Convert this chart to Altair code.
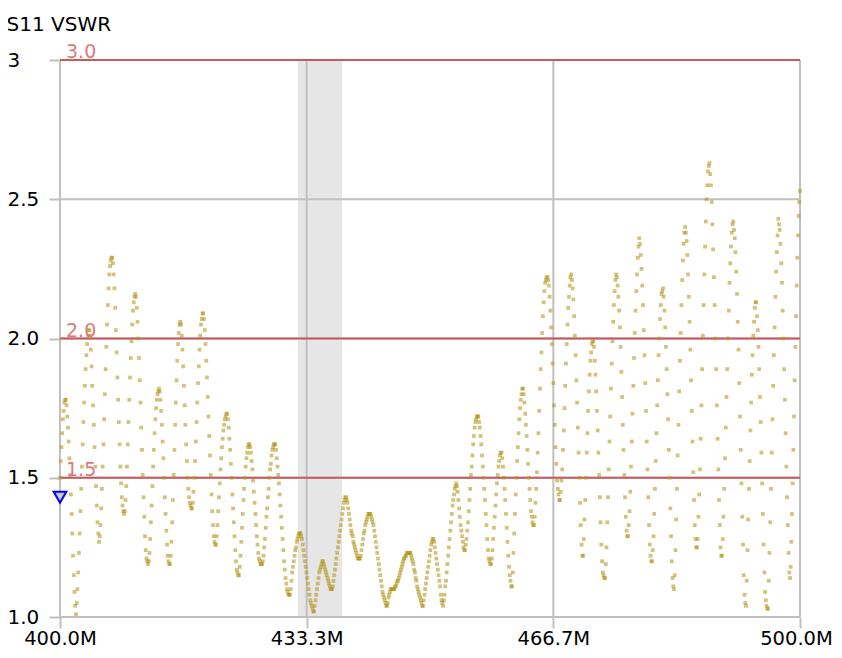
import altair as alt
import pandas as pd
import numpy as np

# Sweep segment start frequencies (MHz), one per oscillation trough
seg_start_mhz = [400.00, 402.16, 405.27, 408.65, 411.89, 414.86, 417.84, 421.08,
                 424.19, 427.30, 431.08, 434.32, 436.76, 440.54, 444.19, 449.05,
                 451.76, 454.73, 458.24, 461.08, 464.05, 467.57, 470.68, 473.65,
                 476.76, 480.00, 482.97, 486.08, 489.46, 492.70, 495.68, 498.65]
sweep_end_mhz = 500.0

# S11 VSWR samples, segment by segment
seg_vswr = [
    [1.50,1.56,1.61,1.66,1.71,1.74,1.77,1.78,1.78,1.76,1.72,1.68,1.63,1.57,1.51,1.44,1.37,1.30,1.22,1.15,1.09,1.04],
    [1.01,1.05,1.10,1.16,1.23,1.30,1.38,1.46,1.54,1.62,1.70,1.77,1.83,1.89,1.94,1.98,2.01,2.03,2.03,
     2.01,1.96,1.90,1.83,1.76,1.69,1.61,1.54,1.47,1.40,1.34,1.30],
    [1.27,1.29,1.33,1.39,1.46,1.54,1.62,1.71,1.80,1.89,1.97,2.05,2.12,2.18,2.23,2.26,2.28,2.29,
     2.29,2.27,2.23,2.18,2.11,2.03,1.95,1.86,1.78,1.70,1.62,1.54,1.48,1.43,1.40,1.38],
    [1.37,1.38,1.42,1.47,1.54,1.62,1.70,1.78,1.86,1.93,1.99,2.05,2.10,2.13,2.15,2.16,
     2.15,2.11,2.06,2.00,1.93,1.85,1.77,1.68,1.60,1.51,1.43,1.36,1.29,1.24,1.21,1.20],
    [1.19,1.20,1.23,1.28,1.34,1.40,1.47,1.54,1.60,1.66,1.71,1.75,1.78,1.80,1.81,1.82,
     1.81,1.78,1.74,1.69,1.63,1.57,1.50,1.43,1.37,1.31,1.26,1.22,1.20,1.19],
    [1.19,1.22,1.27,1.34,1.42,1.51,1.60,1.69,1.77,1.85,1.92,1.98,2.02,2.05,2.06,
     2.05,2.01,1.96,1.90,1.83,1.76,1.69,1.62,1.56,1.50,1.46,1.43,1.41,1.40,1.39],
    [1.39,1.41,1.45,1.50,1.56,1.63,1.70,1.77,1.84,1.90,1.96,2.01,2.05,2.07,2.09,2.09,
     2.07,2.03,1.98,1.92,1.86,1.79,1.72,1.65,1.58,1.51,1.44,1.38,1.33,1.29,1.27,1.26],
    [1.26,1.29,1.33,1.38,1.43,1.48,1.53,1.57,1.61,1.64,1.67,1.69,1.71,1.72,1.73,1.73,
     1.71,1.68,1.64,1.60,1.55,1.50,1.44,1.39,1.34,1.29,1.24,1.20,1.17,1.16,1.15],
    [1.15,1.18,1.22,1.27,1.32,1.37,1.42,1.46,1.50,1.54,1.57,1.59,1.61,1.62,1.62,
     1.61,1.59,1.56,1.53,1.49,1.45,1.41,1.37,1.33,1.29,1.26,1.23,1.21,1.20,1.19,1.19],
    [1.19,1.20,1.22,1.25,1.28,1.32,1.36,1.39,1.43,1.46,1.50,1.53,1.55,1.58,1.60,1.61,1.62,1.62,1.62,
     1.60,1.57,1.54,1.51,1.48,1.44,1.40,1.36,1.32,1.28,1.24,1.20,1.17,1.14,1.12,1.10,1.09,1.08,1.08],
    [1.08,1.10,1.13,1.16,1.18,1.20,1.22,1.24,1.25,1.27,1.28,1.29,1.30,1.30,1.30,1.29,
     1.28,1.26,1.24,1.22,1.20,1.18,1.16,1.14,1.12,1.10,1.08,1.06,1.05,1.04,1.03,1.02],
    [1.02,1.04,1.06,1.08,1.10,1.12,1.14,1.16,1.17,1.18,1.19,1.20,1.20,
     1.19,1.18,1.17,1.16,1.15,1.14,1.13,1.12,1.11,1.10,1.10],
    [1.10,1.11,1.13,1.15,1.17,1.19,1.21,1.23,1.25,1.27,1.29,1.31,1.33,1.35,1.37,1.39,1.41,1.42,1.43,1.43,
     1.42,1.41,1.39,1.37,1.35,1.33,1.31,1.30,1.29,1.27,1.26,1.25,1.24,1.23,1.22,1.21,1.21,1.21],
    [1.21,1.22,1.24,1.26,1.28,1.30,1.31,1.33,1.34,1.35,1.36,1.37,1.37,1.37,1.37,
     1.36,1.35,1.34,1.33,1.31,1.29,1.27,1.25,1.23,1.21,1.19,1.17,1.15,1.13,1.11,1.09,1.08,1.07,1.06,1.05,1.04],
    [1.04,1.05,1.07,1.08,1.09,1.10,1.10,1.10,1.10,1.10,1.10,1.11,1.11,1.12,1.13,1.13,1.14,1.15,1.16,1.17,
     1.18,1.19,1.20,1.21,1.21,1.22,1.22,1.23,1.23,1.23,1.23,1.23,1.23,
     1.22,1.21,1.20,1.19,1.17,1.16,1.14,1.13,1.11,1.10,1.09,1.08,1.07,1.06,1.05,1.04],
    [1.04,1.06,1.08,1.10,1.12,1.14,1.16,1.18,1.20,1.22,1.24,1.26,1.27,1.28,
     1.28,1.27,1.25,1.23,1.21,1.19,1.17,1.15,1.13,1.11,1.08,1.06,1.05],
    [1.04,1.06,1.08,1.11,1.13,1.16,1.19,1.22,1.25,1.28,1.31,1.34,1.37,1.40,1.42,1.44,1.46,1.47,1.48,
     1.47,1.45,1.42,1.39,1.36,1.33,1.31,1.29,1.27,1.25,1.24],
    [1.24,1.26,1.28,1.31,1.34,1.38,1.42,1.46,1.51,1.54,1.58,1.62,1.65,1.68,1.70,1.71,1.72,1.72,1.72,
     1.70,1.68,1.65,1.62,1.58,1.54,1.50,1.46,1.42,1.37,1.33,1.28,1.24,1.21,1.20,1.19],
    [1.19,1.21,1.24,1.28,1.32,1.36,1.40,1.44,1.48,1.51,1.54,1.56,1.58,1.59,1.59,
     1.57,1.54,1.50,1.46,1.42,1.37,1.32,1.27,1.22,1.18,1.15,1.13,1.11],
    [1.11,1.16,1.23,1.30,1.37,1.44,1.50,1.56,1.61,1.66,1.71,1.75,1.78,1.80,1.82,1.82,
     1.80,1.77,1.73,1.69,1.65,1.60,1.55,1.50,1.46,1.42,1.38,1.36,1.34,1.33],
    [1.33,1.36,1.41,1.46,1.52,1.59,1.66,1.74,1.82,1.89,1.95,2.02,2.08,2.13,2.17,2.20,2.21,2.22,2.22,
     2.21,2.19,2.15,2.10,2.04,1.98,1.91,1.84,1.76,1.69,1.61,1.55,1.49,1.46,1.44,1.42],
    [1.42,1.45,1.49,1.53,1.60,1.67,1.75,1.83,1.91,1.98,2.05,2.11,2.15,2.19,2.22,2.23,
     2.21,2.18,2.14,2.08,2.01,1.94,1.85,1.77,1.68,1.59,1.50,1.41,1.33,1.26,1.22],
    [1.22,1.28,1.35,1.42,1.50,1.59,1.66,1.74,1.81,1.87,1.92,1.95,1.98,1.99,1.99,
     1.97,1.92,1.87,1.81,1.74,1.67,1.59,1.51,1.43,1.34,1.26,1.20,1.16,1.15,1.14],
    [1.14,1.19,1.25,1.34,1.43,1.53,1.63,1.72,1.82,1.91,1.99,2.06,2.12,2.17,2.21,2.23,
     2.22,2.19,2.15,2.10,2.04,1.97,1.88,1.79,1.69,1.60,1.51,1.43,1.36,1.31,1.29],
    [1.29,1.33,1.38,1.45,1.54,1.63,1.73,1.83,1.93,2.02,2.10,2.17,2.23,2.29,2.33,2.36,
     2.34,2.30,2.25,2.19,2.12,2.03,1.94,1.84,1.74,1.63,1.53,1.43,1.33,1.26,1.22,1.20],
    [1.20,1.24,1.29,1.37,1.46,1.56,1.66,1.76,1.85,1.94,2.00,2.07,2.12,2.16,2.17,2.18,
     2.15,2.10,2.04,1.97,1.89,1.80,1.71,1.60,1.50,1.39,1.29,1.20,1.14,1.11],
    [1.10,1.15,1.24,1.35,1.46,1.58,1.69,1.81,1.92,2.02,2.12,2.21,2.28,2.34,2.38,2.40,
     2.38,2.35,2.30,2.23,2.15,2.06,1.96,1.85,1.74,1.63,1.52,1.42,1.33,1.28,1.25],
    [1.25,1.28,1.36,1.44,1.53,1.64,1.76,1.89,2.01,2.12,2.23,2.33,2.42,2.50,2.55,2.60,2.62,2.63,
     2.59,2.55,2.49,2.41,2.32,2.22,2.12,2.00,1.89,1.76,1.64,1.53,1.42,1.33,1.25,1.22],
    [1.22,1.28,1.36,1.46,1.57,1.68,1.79,1.89,2.00,2.10,2.20,2.27,2.33,2.38,2.41,2.42,
     2.39,2.36,2.31,2.24,2.16,2.06,1.96,1.84,1.72,1.60,1.48,1.36,1.26,1.15,1.08,1.05],
    [1.04,1.13,1.24,1.35,1.46,1.56,1.67,1.77,1.87,1.94,2.01,2.06,2.11,2.13,2.13,
     2.08,2.03,1.97,1.89,1.79,1.70,1.59,1.48,1.37,1.26,1.16,1.09,1.06,1.04,1.03],
    [1.03,1.13,1.23,1.34,1.46,1.59,1.71,1.83,1.94,2.04,2.15,2.24,2.31,2.37,2.43,
     2.41,2.39,2.34,2.27,2.20,2.10,2.00,1.89,1.78,1.66,1.54,1.43,1.33,1.23,1.16],
    [1.14,1.18,1.27,1.37,1.48,1.60,1.72,1.85,1.97,2.08,2.19,2.29,2.37,2.44,2.49,2.53],
]

x_ticks = [400.0, 433.333, 466.667, 500.0]
y_ticks = [1.0, 1.5, 2.0, 2.5, 3.0]
limit_levels = [1.5, 2.0, 3.0]
limit_labels = ["1.5", "2.0", "3.0"]
band_start, band_end = 432.16, 438.11
marker_mhz, marker_vswr = 400.0, 1.43

# build sweep table
freqs, vals = [], []
n_seg = len(seg_vswr)
for i, seg in enumerate(seg_vswr):
    start = seg_start_mhz[i]
    stop = seg_start_mhz[i + 1] if i + 1 < n_seg else sweep_end_mhz
    last = i == n_seg - 1
    freqs.extend(np.linspace(start, stop, len(seg), endpoint=last).tolist())
    vals.extend(seg)
trace = pd.DataFrame({"f": freqs, "v": vals})

FONT = "DejaVu Sans"
GRID = "#c0c0c0"

xs = alt.Scale(domain=[400, 500], nice=False, zero=False)
ys = alt.Scale(domain=[1, 3], nice=False, zero=False)

band = alt.Chart(pd.DataFrame({"a": [band_start], "b": [band_end]})).mark_rect(
    color="#e6e6e6"
).encode(
    x=alt.X("a:Q", scale=xs), x2="b:Q",
    y=alt.value(0), y2=alt.value(557),
)

vgrid = alt.Chart(pd.DataFrame({"t": x_ticks})).mark_rule(
    color=GRID, strokeWidth=2
).encode(x=alt.X("t:Q", scale=xs))

hgrid = alt.Chart(pd.DataFrame({"t": y_ticks})).mark_rule(
    color=GRID, strokeWidth=2
).encode(y=alt.Y("t:Q", scale=ys))

lim_df = pd.DataFrame({"lv": limit_levels, "lab": limit_labels, "x0": [400.0] * 3})
limits = alt.Chart(lim_df).mark_rule(color="#c85a5a", strokeWidth=2).encode(
    y=alt.Y("lv:Q", scale=ys)
)
limit_text = alt.Chart(lim_df).mark_text(
    align="left", baseline="alphabetic", dx=6, dy=-2,
    font=FONT, fontSize=19, color="#e07a7a"
).encode(
    x=alt.X("x0:Q", scale=xs), y=alt.Y("lv:Q", scale=ys), text="lab:N"
)

dots = alt.Chart(trace).mark_square(
    size=14, color="#b4961e", opacity=0.58
).encode(
    x=alt.X("f:Q", scale=xs,
            axis=alt.Axis(values=x_ticks, title=None, grid=False, domain=False,
                          ticks=True, tickSize=11, tickWidth=2, tickColor=GRID,
                          labelExpr="format(datum.value, '.1f') + 'M'",
                          labelFont=FONT, labelFontSize=19.5, labelColor="#000000",
                          labelBaseline="alphabetic", labelPadding=16,
                          labelOffset={"condition": {"test": "datum.value >= 499", "value": -4},
                                       "value": 0},
                          labelFlush=False, labelOverlap=False)),
    y=alt.Y("v:Q", scale=ys,
            axis=alt.Axis(values=y_ticks, grid=False, domain=False,
                          ticks=True, tickSize=11, tickWidth=2, tickColor=GRID,
                          labelExpr="datum.value >= 3 ? '3' : format(datum.value, '.1f')",
                          labelFont=FONT, labelFontSize=20, labelColor="#000000",
                          labelAlign="left", labelBaseline="middle", labelPadding=42,
                          labelFlush=False, labelOverlap=False,
                          title="S11 VSWR", titleAngle=0, titleX=-54, titleY=-30,
                          titleAlign="left", titleBaseline="alphabetic",
                          titleFont=FONT, titleFontSize=20, titleFontWeight="normal",
                          titleColor="#000000")),
)

marker = alt.Chart(pd.DataFrame({"f": [marker_mhz], "v": [marker_vswr]})).mark_point(
    shape="triangle-down", size=160, filled=True, fill="#c8c8c8",
    stroke="#0000ff", strokeWidth=2, opacity=1
).encode(x=alt.X("f:Q", scale=xs), y=alt.Y("v:Q", scale=ys))

chart = alt.layer(band, vgrid, hgrid, limits, dots, marker, limit_text).properties(
    width=740, height=557,
    padding={"left": 52, "top": 52, "right": 34, "bottom": 33},
    autosize=alt.AutoSizeParams(type="none"),
).configure_view(stroke=None)

chart.save("out.html", embed_options={"renderer": "svg", "actions": False})
